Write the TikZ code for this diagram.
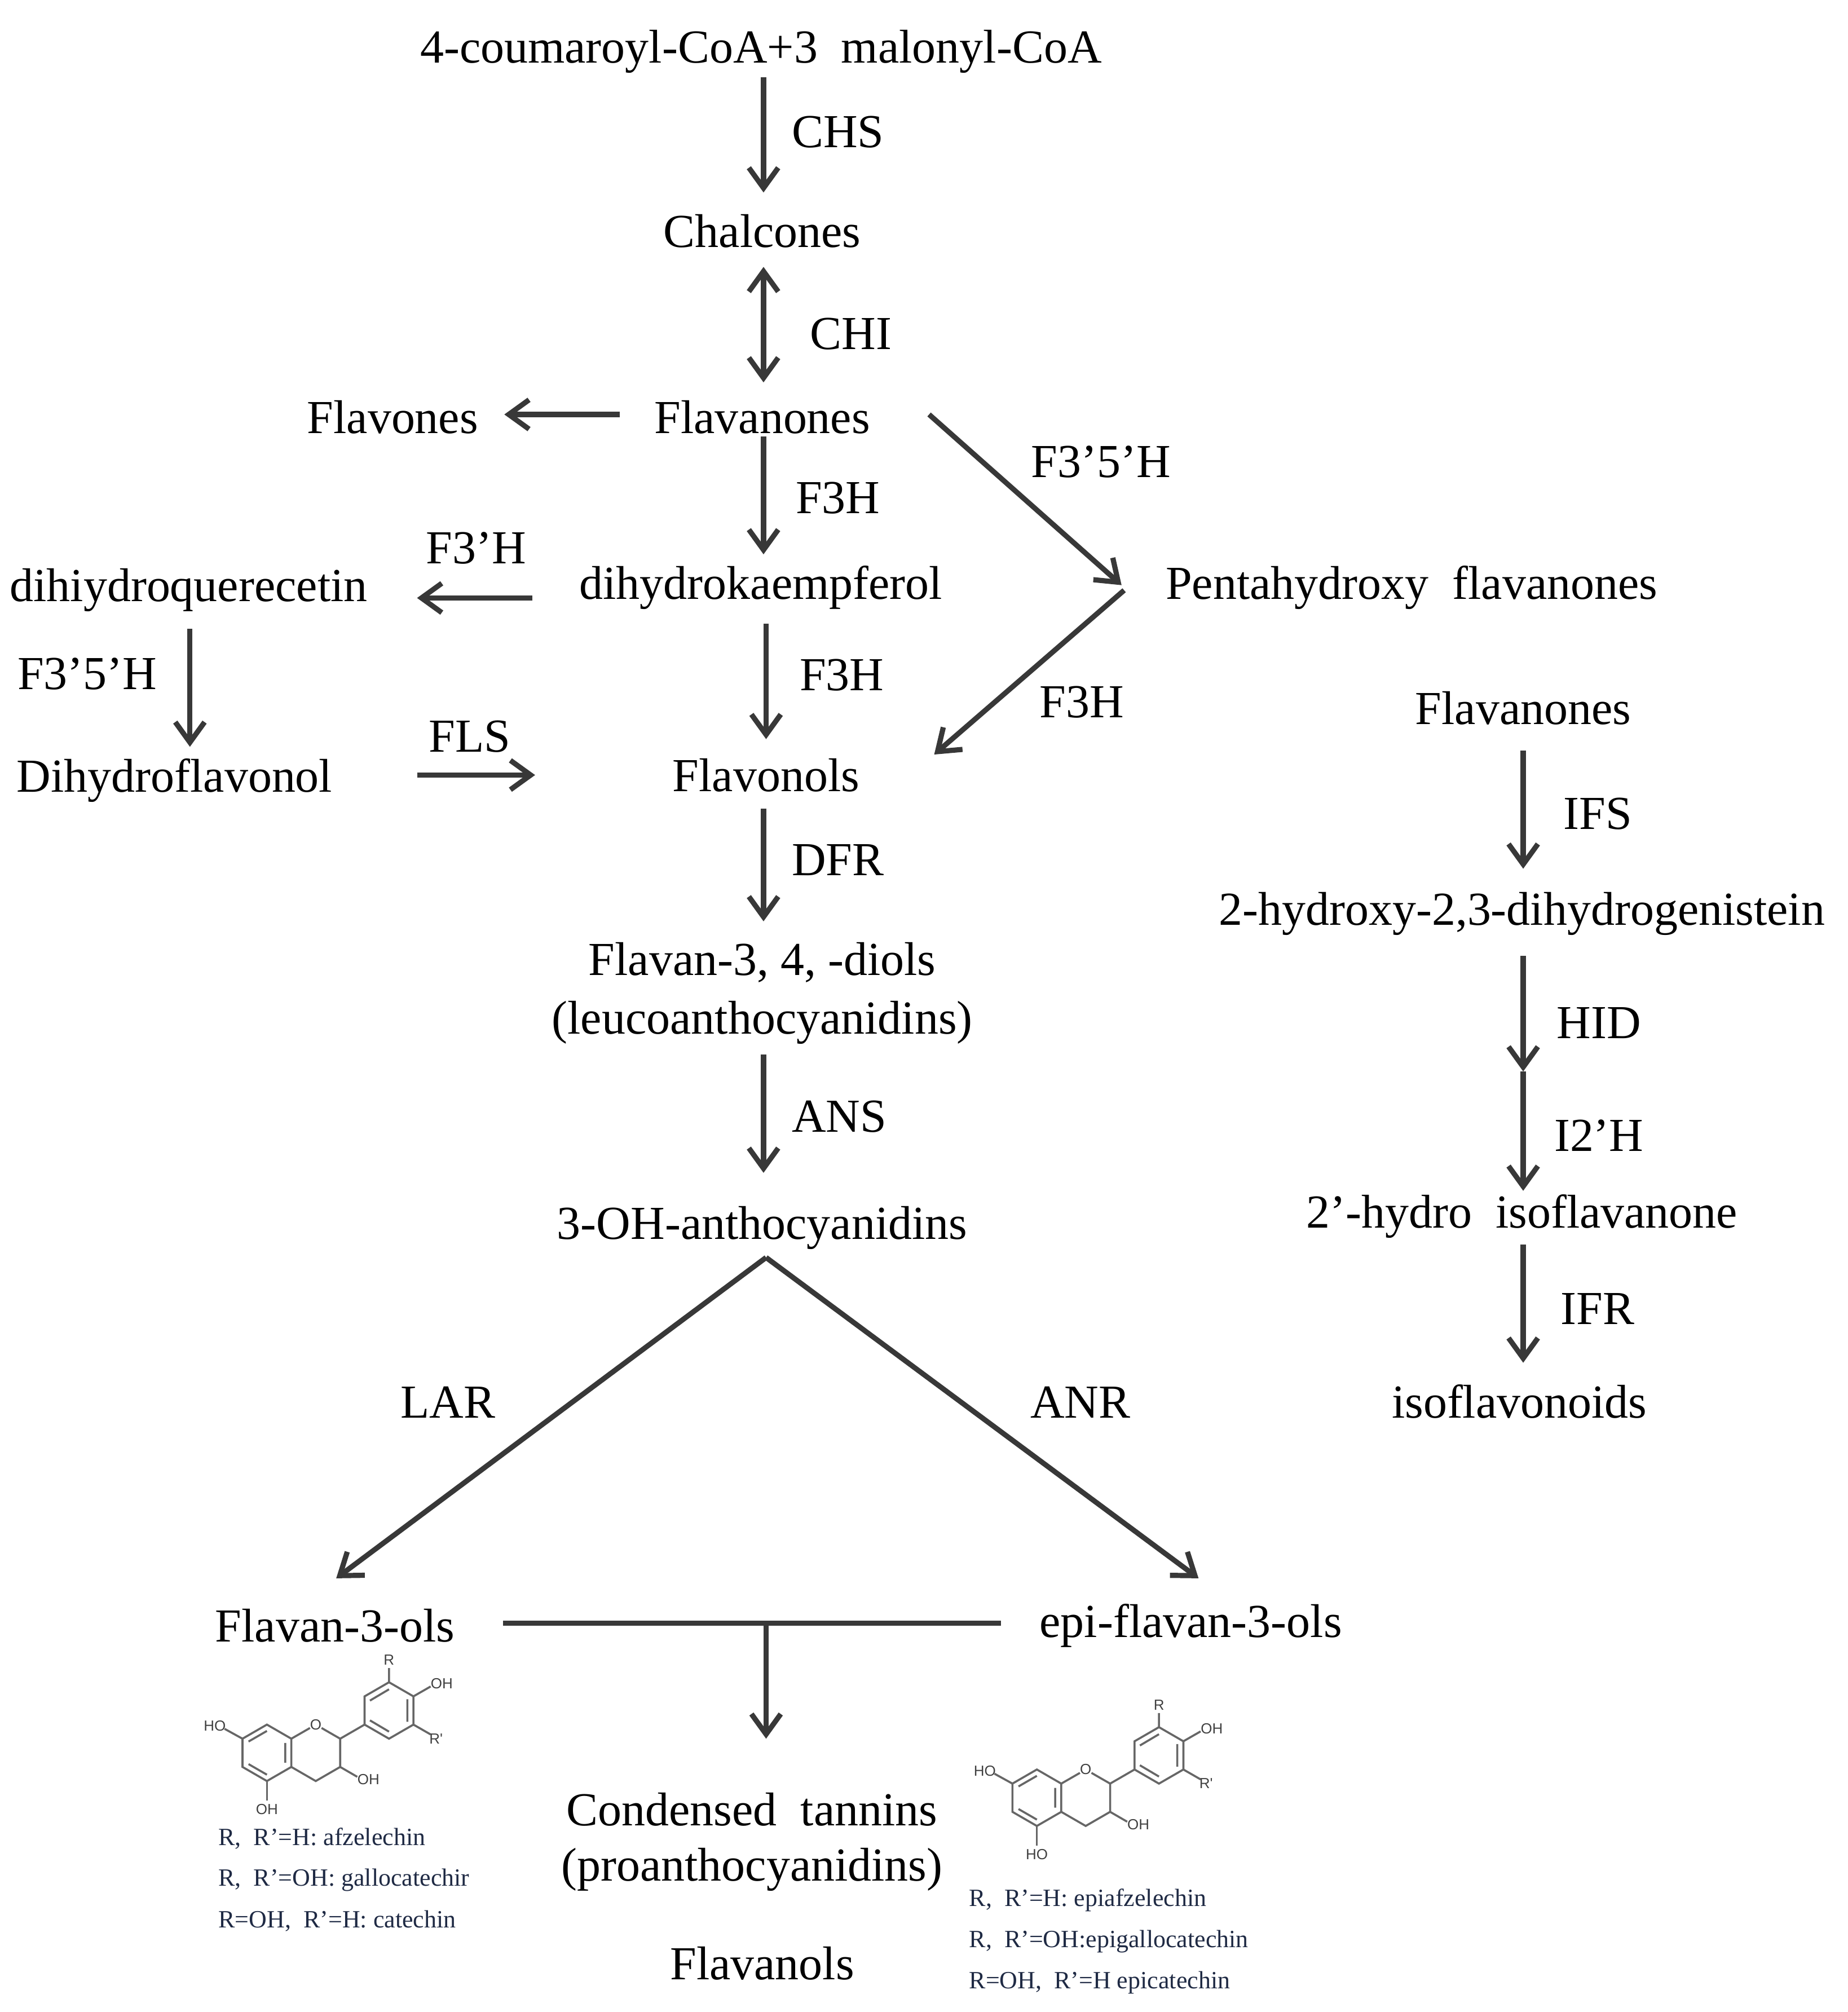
\documentclass[tikz,border=0pt]{standalone}
\usepackage{fontspec}
\setmainfont{Liberation Serif}
\newfontfamily\chemfont{Liberation Sans}
\usetikzlibrary{arrows.meta}
\definecolor{arr}{HTML}{383838}
\definecolor{lab}{HTML}{1F2A44}
\begin{document}
\begin{tikzpicture}[x=0.02cm,y=-0.02cm,
  t/.style={font=\fontsize{21}{25}\selectfont,inner sep=0pt,anchor=center},
  ar/.style={line width=2.3pt,color=arr,-{Straight Barb[length=9pt,width=13pt,line width=2.3pt]}},
  ln/.style={line width=2.3pt,color=arr},
  sm/.style={font=\fontsize{11}{13}\selectfont,text=lab,inner sep=0pt,anchor=west},
  ch/.style={font=\chemfont\fontsize{6.5}{7}\selectfont,text=black!75,inner sep=0.5pt},
  bd/.style={line width=0.9pt,color=black!60}]
\useasboundingbox (0,0) rectangle (1440,1568);
\tikzset{flav/.pic={
  % ring A
  \draw[bd] (0,-20)--(17.3,-10)--(17.3,10)--(0,20)--(-17.3,10)--(-17.3,-10)--cycle;
  \draw[bd] (-13,-8)--(0,-15.5) (13,-7)--(13,7) (-13,8)--(0,15.5);
  % ring C
  \draw[bd] (17.3,-10)--(30.5,-17.6) (38.7,-17.6)--(51.9,-10)--(51.9,10)--(34.6,20)--(17.3,10);
  \node[ch] at (34.6,-20) {O};
  % B ring
  \draw[bd] (51.9,-10)--(69.2,-20);
  \draw[bd] (69.2,-20)--(69.2,-40)--(86.5,-50)--(103.8,-40)--(103.8,-20)--(86.5,-10)--cycle;
  \draw[bd] (73,-37)--(86.5,-45) (99.5,-38)--(99.5,-22) (73,-23)--(86.5,-15);
  \draw[bd] (86.5,-50)--(86.5,-60) (103.8,-40)--(116,-47) (103.8,-20)--(116,-13);
  \node[ch,anchor=south] at (86.5,-61) {R};
  \node[ch,anchor=west] at (115,-49) {OH};
  \node[ch,anchor=west] at (114,-10) {R'};
  % substituents
  \draw[bd] (-17.3,-10)--(-30,-17);
  \node[ch,anchor=east] at (-28,-19) {HO};
  \draw[bd] (0,20)--(0,34);
  \node[ch] at (0,40) {\tikzpictext};
  \draw[bd] (51.9,10)--(64,17);
  \node[ch,anchor=west] at (63,19) {OH};
}}
% main column
\node[t] (cou) at (593,40) {4-coumaroyl-CoA+3 \ malonyl-CoA};
\node[t] (chal) at (594,180) {Chalcones};
\node[t] (flvn) at (594,325) {Flavanones};
\node[t] (flvs) at (306,325) {Flavones};
\node[t] (dhk) at (593,458) {dihydrokaempferol};
\node[t] (dhq) at (147,460) {dihiydroquerecetin};
\node[t] (dhf) at (136,608) {Dihydroflavonol};
\node[t] (flvl) at (597,604) {Flavonols};
\node[t] (pent) at (1100,458) {Pentahydroxy \ flavanones};
\node[t] (diol) at (594,750) {Flavan-3, 4, -diols};
\node[t] (leuc) at (594,797) {(leucoanthocyanidins)};
\node[t] (oh3) at (594,957) {3-OH-anthocyanidins};
\node[t] (f3ol) at (261,1267) {Flavan-3-ols};
\node[t] (epi) at (928,1267) {epi-flavan-3-ols};
\node[t] (cond) at (586,1410) {Condensed \ tannins};
\node[t] (proa) at (586,1457) {(proanthocyanidins)};
\node[t] (flvo) at (594,1530) {Flavanols};
% right column
\node[t] (rfl) at (1187,552) {Flavanones};
\node[t] (hyd) at (1186,712) {2-hydroxy-2,3-dihydrogenistein};
\node[t] (iso) at (1186,948) {2’-hydro \ isoflavanone};
\node[t] (isf) at (1184,1092) {isoflavonoids};
% enzyme labels
\node[t] at (653,103) {CHS};
\node[t] at (663,260) {CHI};
\node[t] at (653,388) {F3H};
\node[t] at (371,427) {F3’H};
\node[t] at (68,525) {F3’5’H};
\node[t] at (366,574) {FLS};
\node[t] at (656,526) {F3H};
\node[t] at (858,360) {F3’5’H};
\node[t] at (843,547) {F3H};
\node[t] at (653,670) {DFR};
\node[t] at (654,870) {ANS};
\node[t] at (349,1093) {LAR};
\node[t] at (842,1093) {ANR};
\node[t] at (1245,634) {IFS};
\node[t] at (1246,797) {HID};
\node[t] at (1246,885) {I2’H};
\node[t] at (1245,1020) {IFR};
% arrows
\coordinate (a1) at (595,60); \coordinate (a2) at (595,150);
\draw[ar] (a1)--(a2);
\coordinate (b1) at (595,208); \coordinate (b2) at (595,298);
\draw[ar,{Straight Barb[length=9pt,width=13pt,line width=2.3pt]}-{Straight Barb[length=9pt,width=13pt,line width=2.3pt]}] (b1)--(b2);
\coordinate (c1) at (483,323); \coordinate (c2) at (393,323);
\draw[ar] (c1)--(c2);
\coordinate (d1) at (595,340); \coordinate (d2) at (595,432);
\draw[ar] (d1)--(d2);
\coordinate (e1) at (415,466); \coordinate (e2) at (325,466);
\draw[ar] (e1)--(e2);
\coordinate (f1) at (148,490); \coordinate (f2) at (148,582);
\draw[ar] (f1)--(f2);
\coordinate (g1) at (325,604); \coordinate (g2) at (417,604);
\draw[ar] (g1)--(g2);
\coordinate (h1) at (597,486); \coordinate (h2) at (597,576);
\draw[ar] (h1)--(h2);
\coordinate (i1) at (724,323); \coordinate (i2) at (874,456);
\draw[ar] (i1)--(i2);
\coordinate (j1) at (876,460); \coordinate (j2) at (728,588);
\draw[ar] (j1)--(j2);
\coordinate (k1) at (595,630); \coordinate (k2) at (595,718);
\draw[ar] (k1)--(k2);
\coordinate (l1) at (595,822); \coordinate (l2) at (595,914);
\draw[ar] (l1)--(l2);
\coordinate (top) at (597,980);
\coordinate (m2) at (262,1230); \coordinate (n2) at (934,1230);
\draw[ar] (top)--(m2);
\draw[ar] (top)--(n2);
\coordinate (hl) at (392,1265); \coordinate (hr) at (780,1265);
\coordinate (hm) at (597,1265); \coordinate (hd) at (597,1355);
\draw[ln] (hl)--(hr);
\draw[ar] (hm)--(hd);
\coordinate (p1) at (1187,585); \coordinate (p2) at (1187,677);
\draw[ar] (p1)--(p2);
\coordinate (q1) at (1187,745); \coordinate (q2) at (1187,835);
\draw[ar] (q1)--(q2);
\coordinate (q3) at (1187,928);
\draw[ar] (q2)--(q3);
\coordinate (r1) at (1187,970); \coordinate (r2) at (1187,1062);
\draw[ar] (r1)--(r2);
% structures
\pic[pic text=OH,scale=1.1] at (208,1366) {flav};
\pic[pic text=HO,scale=1.1] at (808,1401) {flav};
\node[sm] at (170,1433) {R,\ \ R’=H: afzelechin};
\node[sm] at (170,1465) {R,\ \ R’=OH: gallocatechir};
\node[sm] at (170,1497) {R=OH,\ \ R’=H: catechin};
\node[sm] at (755,1481) {R,\ \ R’=H: epiafzelechin};
\node[sm] at (755,1513) {R,\ \ R’=OH:epigallocatechin};
\node[sm] at (755,1545) {R=OH,\ \ R’=H epicatechin};
\end{tikzpicture}
\end{document}
